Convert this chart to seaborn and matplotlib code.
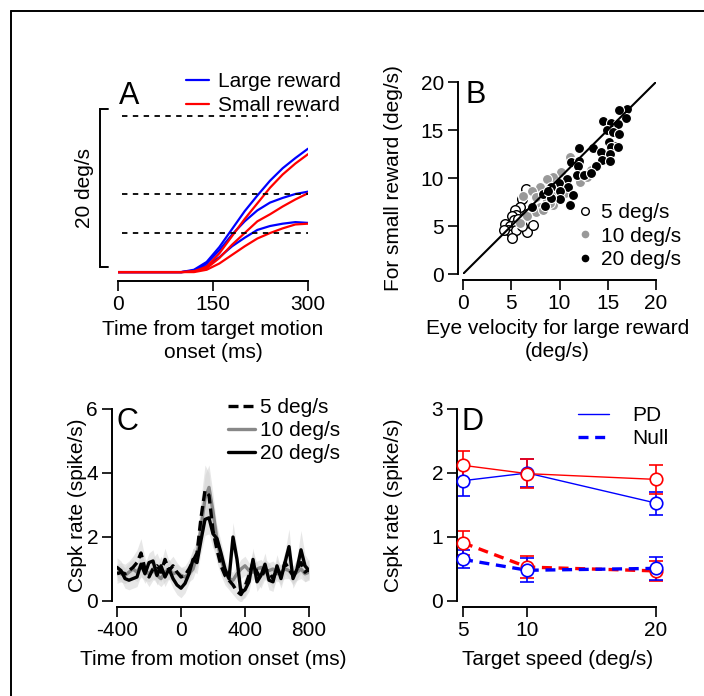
import numpy as np
import pandas as pd
import matplotlib
matplotlib.use("Agg")
import matplotlib.pyplot as plt
from matplotlib.lines import Line2D
import seaborn as sns

# ---------------- data ----------------
# A: eye velocity traces (deg/s) vs time from target motion onset (ms)
time_a = [0, 20, 40, 60, 80, 100, 120, 140, 160, 180, 200, 220, 240, 260, 280, 300]
large_20 = [0, 0, 0, 0, 0, 0, 0.3, 1.3, 3.2, 5.5, 7.8, 9.8, 11.7, 13.3, 14.6, 15.8]
small_20 = [0, 0, 0, 0, 0, 0, 0.1, 0.7, 2.4, 4.6, 6.8, 8.8, 10.8, 12.5, 13.9, 15.1]
large_10 = [0, 0, 0, 0, 0, 0, 0.2, 1.1, 2.8, 4.8, 6.5, 7.9, 8.9, 9.5, 10.0, 10.3]
small_10 = [0, 0, 0, 0, 0, 0, 0.1, 0.5, 1.8, 3.5, 5.0, 6.5, 7.4, 8.4, 9.3, 10.1]
large_5 = [0, 0, 0, 0, 0, 0, 0.1, 0.8, 1.9, 3.3, 4.4, 5.4, 5.9, 6.2, 6.4, 6.3]
small_5 = [0, 0, 0, 0, 0, 0, 0.0, 0.3, 1.1, 2.2, 3.3, 4.3, 5.0, 5.6, 6.1, 6.2]
target_speeds = [5, 10, 20]

# B: eye velocity, large vs small reward
b5_x = [6.5, 6.1, 5.9, 5.4, 5.5, 5.1, 5.3, 4.4, 4.9, 5.5, 4.7, 5.1, 5.5, 5.1, 6.6, 7.3, 6.1, 6.6, 4.2, 5.7]
b5_y = [8.9, 7.8, 7.0, 6.7, 6.1, 6.0, 5.6, 5.2, 5.0, 5.2, 4.6, 4.2, 4.6, 3.8, 4.4, 5.1, 5.0, 6.2, 4.6, 5.7]
b10_x = [11.1, 11.4, 10.2, 9.3, 8.7, 8.0, 7.1, 7.6, 6.2, 8.7, 8.0, 7.6, 6.6, 5.9, 9.3, 12.1, 12.8, 13.3,
         10.6, 9.2, 9.9, 9.0, 8.3]
b10_y = [12.2, 11.7, 10.6, 10.1, 9.9, 9.1, 8.6, 8.0, 8.1, 7.7, 7.0, 6.5, 6.0, 5.3, 7.2, 9.6, 10.1, 10.8,
         8.4, 8.4, 8.9, 7.4, 6.7]
b20_x = [17.0, 16.2, 16.9, 14.5, 15.3, 16.1, 14.9, 15.5, 16.2, 15.1, 15.9, 15.3, 16.1, 13.5, 14.3, 15.2,
         14.4, 15.2, 12.0, 11.2, 12.0, 13.8, 11.9, 11.8, 12.5, 13.3, 10.8, 9.9, 9.1, 10.9, 10.0, 11.4,
         8.3, 10.0, 9.1, 8.5, 11.1, 7.1, 8.8]
b20_y = [17.2, 17.1, 16.3, 15.9, 15.7, 15.6, 15.0, 14.8, 14.6, 13.8, 13.3, 13.2, 13.2, 13.1, 12.7, 12.5,
         11.9, 11.8, 13.1, 11.7, 11.8, 11.2, 11.2, 10.3, 10.3, 10.5, 9.9, 9.5, 9.1, 9.1, 8.6, 8.2,
         8.3, 7.8, 7.9, 7.1, 7.2, 7.0, 8.6]

# C: complex spike rate (spike/s) vs time from motion onset (ms)
time_c = [-400, -375, -350, -325, -300, -275, -250, -225, -200, -175,
          -150, -125, -100, -75, -50, -25, 0, 25, 50, 75,
          100, 125, 150, 175, 200, 225, 250, 275, 300, 325,
          350, 375, 400, 425, 450, 475, 500, 525, 550, 575,
          600, 625, 650, 675, 700, 725, 750, 775, 800]
rate_5 = [0.85, 0.9, 0.85, 0.95, 1.05, 1.2, 1.5, 1.0, 0.75, 1.0,
          1.1, 0.9, 1.3, 0.95, 1.1, 0.9, 0.75, 0.8, 1.0, 1.25,
          1.5, 2.6, 3.45, 3.3, 2.2, 1.6, 1.1, 0.8, 0.65, 0.5,
          0.3, 0.2, 0.45, 0.8, 1.2, 0.9, 0.7, 1.0, 0.9, 0.7,
          1.0, 0.8, 1.2, 1.0, 0.8, 1.0, 1.2, 0.9, 1.0]
rate_10 = [0.9, 0.85, 0.8, 0.9, 1.0, 0.9, 1.1, 0.95, 0.85, 1.0,
           0.8, 0.7, 0.9, 1.0, 0.85, 0.9, 0.8, 0.75, 0.85, 1.0,
           1.4, 2.3, 3.2, 3.55, 2.8, 1.9, 1.3, 0.9, 0.7, 0.65,
           0.85, 1.0, 1.1, 0.95, 0.9, 1.0, 1.05, 0.9, 0.95, 1.0,
           0.85, 0.9, 1.0, 0.95, 0.8, 0.9, 1.0, 0.85, 0.9]
rate_20 = [1.05, 0.95, 0.7, 0.65, 0.7, 0.75, 1.15, 0.85, 1.2, 1.25,
           0.8, 1.1, 0.75, 1.0, 0.7, 0.5, 0.4, 0.55, 0.85, 1.3,
           1.2, 1.9, 2.55, 2.6, 2.1, 1.95, 1.5, 1.0, 0.7, 2.0,
           1.3, 0.25, 0.35, 0.6, 1.3, 0.6, 0.8, 1.15, 0.65, 0.6,
           1.1, 0.7, 1.2, 1.7, 0.7, 1.0, 1.6, 1.1, 0.95]
sem_5 = [0.3, 0.3, 0.3, 0.3, 0.35, 0.4, 0.45, 0.35, 0.3, 0.35,
         0.4, 0.3, 0.35, 0.3, 0.3, 0.3, 0.3, 0.3, 0.3, 0.35,
         0.4, 0.6, 0.8, 0.7, 0.5, 0.4, 0.3, 0.3, 0.3, 0.3,
         0.25, 0.25, 0.3, 0.3, 0.35, 0.3, 0.3, 0.3, 0.3, 0.3,
         0.3, 0.3, 0.35, 0.3, 0.3, 0.3, 0.35, 0.3, 0.3]
sem_10 = [0.25, 0.25, 0.25, 0.3, 0.3, 0.3, 0.35, 0.3, 0.25, 0.3,
          0.25, 0.25, 0.3, 0.3, 0.25, 0.25, 0.25, 0.25, 0.25, 0.3,
          0.35, 0.5, 0.75, 0.7, 0.55, 0.4, 0.3, 0.25, 0.25, 0.25,
          0.25, 0.3, 0.3, 0.25, 0.25, 0.25, 0.25, 0.25, 0.25, 0.25,
          0.25, 0.25, 0.3, 0.25, 0.25, 0.25, 0.3, 0.25, 0.25]
sem_20 = [0.3, 0.3, 0.3, 0.3, 0.3, 0.3, 0.35, 0.3, 0.3, 0.35,
          0.3, 0.3, 0.3, 0.3, 0.3, 0.3, 0.3, 0.3, 0.3, 0.35,
          0.35, 0.4, 0.5, 0.5, 0.45, 0.4, 0.35, 0.3, 0.3, 0.45,
          0.35, 0.2, 0.25, 0.3, 0.35, 0.3, 0.3, 0.35, 0.3, 0.3,
          0.35, 0.3, 0.35, 0.55, 0.3, 0.35, 0.6, 0.35, 0.3]

# D: mean Cspk rate vs target speed
speed_d = [5, 10, 20]
pd_large = [1.88, 2.00, 1.53]
pd_large_err = [0.24, 0.22, 0.18]
pd_small = [2.12, 1.99, 1.90]
pd_small_err = [0.22, 0.23, 0.23]
null_large = [0.65, 0.48, 0.51]
null_large_err = [0.14, 0.19, 0.18]
null_small = [0.91, 0.53, 0.47]
null_small_err = [0.19, 0.17, 0.15]

BLUE = "#0000ff"
RED = "#ff0000"
FS = 15

sns.set_style("ticks")
plt.rcParams["font.family"] = ["Liberation Sans", "DejaVu Sans"]
plt.rcParams.update({
    "axes.linewidth": 1.4,
    "xtick.major.size": 7, "ytick.major.size": 7,
    "xtick.major.width": 1.2, "ytick.major.width": 1.2,
    "xtick.major.pad": 3, "ytick.major.pad": 3,
    "xtick.labelsize": FS, "ytick.labelsize": FS,
    "axes.labelsize": FS,
    "xtick.color": "black", "ytick.color": "black",
    "axes.edgecolor": "black", "axes.labelcolor": "black", "text.color": "black",
    "axes.unicode_minus": False,
})

W, H = 704, 696
fig = plt.figure(figsize=(W / 100, H / 100), dpi=100)


def box(l, r, t, b):
    # pixel box -> figure fraction rect
    return [l / W, 1 - b / H, (r - l) / W, (b - t) / H]


def outward(ax, px_l=5, px_b=6):
    sns.despine(ax=ax)
    ax.spines["left"].set_position(("outward", px_l * 0.72))
    ax.spines["bottom"].set_position(("outward", px_b * 0.72))


# ---------------- A ----------------
axA = fig.add_axes(box(118, 308, 80, 276))
rows = []
for sp, lg, sm in zip(target_speeds, [large_5, large_10, large_20], [small_5, small_10, small_20]):
    for t, a, b in zip(time_a, lg, sm):
        rows.append((t, sp, "Large reward", a))
        rows.append((t, sp, "Small reward", b))
dfa = pd.DataFrame(rows, columns=["time", "speed", "reward", "vel"])
sns.lineplot(data=dfa, x="time", y="vel", hue="reward", units="speed", estimator=None,
             palette={"Large reward": BLUE, "Small reward": RED}, lw=1.6, ax=axA, legend=False)
for sp in target_speeds:
    axA.plot([6, 300], [sp, sp], ls=(0, (3, 3)), color="black", lw=1.3)
axA.set_xlim(0, 300)
axA.set_ylim(-0.5, 24.6)
axA.set_xticks([0, 150, 300])
axA.set_yticks([])
axA.set_ylabel("")
axA.spines["left"].set_visible(False)
axA.spines["top"].set_visible(False)
axA.spines["right"].set_visible(False)
axA.spines["bottom"].set_position(("outward", 5 * 0.72))
axA.set_xlabel("Time from target motion\nonset (ms)", linespacing=1.25)
axA.xaxis.set_label_coords(0.5, -0.225)
# 20 deg/s scale bar
axA.plot([-15.5, -28.4, -28.4, -15.5], [20.9, 20.9, 0.6, 0.6], color="black", lw=1.4,
         clip_on=False, solid_joinstyle="miter")
axA.text(-53, 10.8, "20 deg/s", rotation=90, ha="center", va="center", fontsize=FS)
hA = [Line2D([], [], color=BLUE, lw=1.6), Line2D([], [], color=RED, lw=1.6)]
axA.legend(hA, ["Large reward", "Small reward"], loc="upper left",
           bbox_to_anchor=(186 / W, 1 - 72 / H), bbox_transform=fig.transFigure,
           frameon=False, fontsize=FS, handlelength=1.1, handletextpad=0.45,
           labelspacing=0.25, borderpad=0, borderaxespad=0)
fig.text(119 / W, 1 - 104 / H, "A", fontsize=22, va="baseline")

# ---------------- B ----------------
axB = fig.add_axes(box(463, 656, 82, 274))
axB.plot([0, 20], [0, 20], color="black", lw=1.5)
sns.scatterplot(x=b5_x, y=b5_y, color="white", edgecolor="black", s=48, linewidth=1.0, ax=axB,
                clip_on=False)
sns.scatterplot(x=b10_x, y=b10_y, color="#999999", edgecolor="white", s=52, linewidth=0.8, ax=axB)
sns.scatterplot(x=b20_x, y=b20_y, color="black", edgecolor="white", s=52, linewidth=0.8, ax=axB)
axB.set_xlim(0, 20)
axB.set_ylim(0, 20)
axB.set_xticks([0, 5, 10, 15, 20])
axB.set_yticks([0, 5, 10, 15, 20])
outward(axB, 5, 6)
axB.set_xlabel("Eye velocity for large reward\n(deg/s)", linespacing=1.25)
axB.xaxis.set_label_coords(0.49, -0.235)
axB.set_ylabel("For small reward (deg/s)")
axB.yaxis.set_label_coords(-0.36, 0.5)
axB.yaxis.label.set_va("center")
hB = [Line2D([], [], ls="", marker="o", mfc="white", mec="black", ms=5.5, mew=1.0),
      Line2D([], [], ls="", marker="o", mfc="#999999", mec="#999999", ms=4.5),
      Line2D([], [], ls="", marker="o", mfc="black", mec="black", ms=4.5)]
axB.legend(hB, ["5 deg/s", "10 deg/s", "20 deg/s"], loc="upper left",
           bbox_to_anchor=(579 / W, 1 - 203 / H), bbox_transform=fig.transFigure,
           frameon=False, fontsize=FS, handlelength=0.6, handletextpad=0.45,
           labelspacing=0.22, borderpad=0, borderaxespad=0)
fig.text(465 / W, 1 - 103 / H, "B", fontsize=22, va="baseline")

# ---------------- C ----------------
axC = fig.add_axes(box(117, 309, 409, 601))
dfc = pd.DataFrame({"time": time_c, "r5": rate_5, "r10": rate_10, "r20": rate_20,
                    "s5": sem_5, "s10": sem_10, "s20": sem_20})
for r, s in [("r5", "s5"), ("r10", "s10"), ("r20", "s20")]:
    axC.fill_between(dfc["time"], dfc[r] - dfc[s], dfc[r] + dfc[s], color="#d4d4d4",
                     alpha=0.55, lw=0)
sns.lineplot(data=dfc, x="time", y="r10", color="#888888", lw=2.4, ax=axC)
sns.lineplot(data=dfc, x="time", y="r5", color="black", lw=2.4, ls=(0, (3, 1.5)), ax=axC)
sns.lineplot(data=dfc, x="time", y="r20", color="black", lw=2.4, ax=axC)
axC.set_xlim(-400, 800)
axC.set_ylim(0, 6)
axC.set_xticks([-400, 0, 400, 800])
axC.set_yticks([0, 2, 4, 6])
outward(axC, 5, 6)
axC.set_xlabel("Time from motion onset (ms)")
axC.xaxis.set_label_coords(0.5, -0.255)
axC.set_ylabel("Cspk rate (spike/s)")
axC.yaxis.set_label_coords(-0.205, 0.5)
axC.yaxis.label.set_va("center")
hC = [Line2D([], [], color="black", lw=2.4, ls=(0, (3, 1.5))),
      Line2D([], [], color="#888888", lw=2.4),
      Line2D([], [], color="black", lw=2.4)]
axC.legend(hC, ["5 deg/s", "10 deg/s", "20 deg/s"], loc="upper left",
           bbox_to_anchor=(228 / W, 1 - 398 / H), bbox_transform=fig.transFigure,
           frameon=False, fontsize=FS, handlelength=1.3, handletextpad=0.25,
           labelspacing=0.2, borderpad=0, borderaxespad=0)
fig.text(117 / W, 1 - 430 / H, "C", fontsize=22, va="baseline")

# ---------------- D ----------------
axD = fig.add_axes(box(463, 656, 409, 601))
series_d = [(pd_large, pd_large_err, BLUE, "-", 1.0),
            (pd_small, pd_small_err, RED, "-", 1.0),
            (null_small, null_small_err, RED, (0, (3, 2)), 2.4),
            (null_large, null_large_err, BLUE, (0, (3, 2)), 2.4)]
for y, e, c, ls, lw in series_d:
    axD.errorbar(speed_d, y, yerr=e, fmt="none", ecolor=c, elinewidth=1.2, capsize=5,
                 capthick=1.2, clip_on=False, zorder=2)
for y, e, c, ls, lw in series_d:
    sns.lineplot(x=speed_d, y=y, color=c, lw=lw, ls=ls, ax=axD, zorder=3)
    axD.plot(speed_d, y, ls="", marker="o", ms=9, mfc="white", mec=c, mew=1.2,
             clip_on=False, zorder=4)
axD.set_xlim(5, 20)
axD.set_ylim(0, 3)
axD.set_xticks([5, 10, 20])
axD.set_yticks([0, 1, 2, 3])
outward(axD, 6, 6)
axD.set_xlabel("Target speed (deg/s)")
axD.xaxis.set_label_coords(0.49, -0.255)
axD.set_ylabel("Cspk rate (spike/s)")
axD.yaxis.set_label_coords(-0.36, 0.5)
axD.yaxis.label.set_va("center")
hD = [Line2D([], [], color=BLUE, lw=1.0), Line2D([], [], color=BLUE, lw=2.4, ls=(0, (3, 2)))]
axD.legend(hD, ["PD", "Null"], loc="upper left",
           bbox_to_anchor=(578 / W, 1 - 406 / H), bbox_transform=fig.transFigure,
           frameon=False, fontsize=FS, handlelength=1.5, handletextpad=1.1,
           labelspacing=0.2, borderpad=0, borderaxespad=0)
fig.text(461 / W, 1 - 430 / H, "D", fontsize=22, va="baseline")

# figure frame (top and left edges only)
fig.add_artist(Line2D([11 / W, 1], [1 - 11 / H, 1 - 11 / H], transform=fig.transFigure,
                      color="black", lw=1.4))
fig.add_artist(Line2D([11 / W, 11 / W], [0, 1 - 11 / H], transform=fig.transFigure,
                      color="black", lw=1.4))

fig.savefig("out.png", dpi=100)
